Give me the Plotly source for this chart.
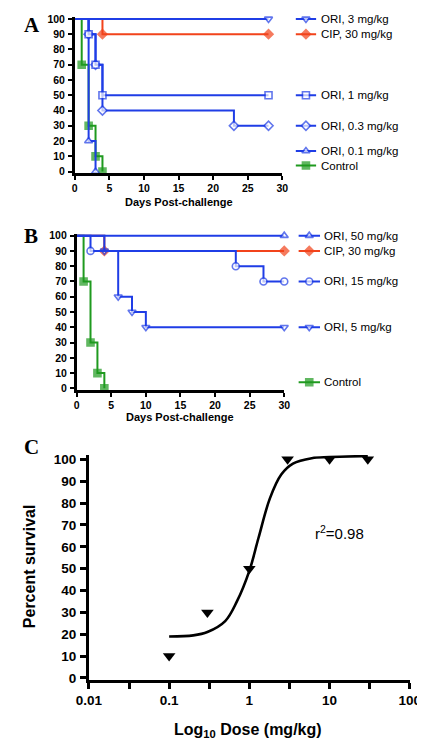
import plotly.graph_objects as go

W, H = 425, 742

# ---------------- data ----------------
# Panel A: Kaplan-Meier steps (day, percent survival)
a_names = ["ORI, 3 mg/kg", "CIP, 30 mg/kg", "ORI, 1 mg/kg", "ORI, 0.3 mg/kg", "ORI, 0.1 mg/kg", "Control"]
a_days = [
    [0, 28],
    [0, 4, 28],
    [0, 2, 3, 4, 28],
    [0, 2, 3, 4, 23, 28],
    [0, 2, 3],
    [0, 1, 2, 3, 4],
]
a_surv = [
    [100, 100],
    [100, 90, 90],
    [100, 90, 70, 50, 50],
    [100, 90, 70, 40, 30, 30],
    [100, 20, 0],
    [100, 70, 30, 10, 0],
]
a_label_y = [100, 90, 50, 30, 13.5, 4]

# Panel B
b_names = ["ORI, 50 mg/kg", "CIP, 30 mg/kg", "ORI, 15 mg/kg", "ORI, 5 mg/kg", "Control"]
b_days = [
    [0, 30],
    [0, 4, 30],
    [0, 2, 23, 27, 30],
    [0, 4, 6, 8, 10, 30],
    [0, 1, 2, 3, 4],
]
b_surv = [
    [100, 100],
    [100, 90, 90],
    [100, 90, 80, 70, 70],
    [100, 90, 60, 50, 40, 40],
    [100, 70, 30, 10, 0],
]
b_label_y = [100, 90, 70, 40, 4]

# Panel C: dose-response
c_dose = [0.1, 0.3, 1, 3, 10, 30]
c_surv = [10, 30, 50, 100, 100, 100]
fit_dose = [0.1, 0.2, 0.3, 0.5, 0.7, 1.0, 1.3, 1.8, 2.5, 3.5, 6, 10, 30]
fit_surv = [19, 19.5, 21, 26, 35, 49, 64, 82, 93, 98, 100.5, 101, 101.5]

ab_yticks = list(range(0, 101, 10))
ab_xticks = [0, 5, 10, 15, 20, 25, 30]
c_xtickvals = [0.01, 0.1, 1, 10, 100]
c_xticktext = ["0.01", "0.1", "1", "10", "100"]
c_xminor = [0.0316, 0.316, 3.16, 31.6]

# ---------------- styles ----------------
BLUE = "#1f3de6"
RED = "#f2431b"
GREEN = "#1f9a1f"

a_styles = [
    (BLUE, "triangle-down", "white"),
    (RED, "diamond", RED),
    (BLUE, "square", "white"),
    (BLUE, "diamond", "white"),
    (BLUE, "triangle-up", "white"),
    (GREEN, "square", GREEN),
]
b_styles = [
    (BLUE, "triangle-up", "white"),
    (RED, "diamond", RED),
    (BLUE, "circle", "white"),
    (BLUE, "triangle-down", "white"),
    (GREEN, "square", GREEN),
]
draw_order_a = [5, 1, 4, 3, 2, 0]
draw_order_b = [4, 1, 3, 2, 0]


def xdom(p0, p1, v0, v1, r0, r1):
    s = (p1 - p0) / (v1 - v0)
    return [(p0 - (v0 - r0) * s) / W, (p1 + (r1 - v1) * s) / W]


def ydom(p_hi, v_hi, p_lo, v_lo, r0, r1):
    s = (p_lo - p_hi) / (v_hi - v_lo)
    top = p_hi - (r1 - v_hi) * s
    bot = p_lo + (v_lo - r0) * s
    return [1 - bot / H, 1 - top / H]


AB_YR = [-1, 101]
C_YR = [-1, 102]

fig = go.Figure()


def km(days, surv, style, xa, ya):
    col, sym, fill = style
    sizes = [0] + [7] * (len(days) - 1)
    fig.add_trace(go.Scatter(
        x=days, y=surv, mode="lines+markers", xaxis=xa, yaxis=ya,
        line=dict(color=col, width=2, shape="hv"),
        marker=dict(symbol=sym, size=sizes, color=fill, line=dict(color=col, width=1.6)),
        cliponaxis=False, showlegend=False, hoverinfo="skip"))


def legsample(yv, style, xa, ya):
    col, sym, fill = style
    fig.add_trace(go.Scatter(
        x=[0, 0.5, 1], y=[yv, yv, yv], mode="lines+markers", xaxis=xa, yaxis=ya,
        line=dict(color=col, width=2),
        marker=dict(symbol=sym, size=[0, 7, 0], color=fill, line=dict(color=col, width=1.6)),
        cliponaxis=False, showlegend=False, hoverinfo="skip"))


for i in draw_order_a:
    km(a_days[i], a_surv[i], a_styles[i], "x", "y")
for i in draw_order_b:
    km(b_days[i], b_surv[i], b_styles[i], "x2", "y2")
for i in range(len(a_names)):
    legsample(a_label_y[i], a_styles[i], "x4", "y")
for i in range(len(b_names)):
    legsample(b_label_y[i], b_styles[i], "x5", "y2")

fig.add_trace(go.Scatter(
    x=fit_dose, y=fit_surv, mode="lines", xaxis="x3", yaxis="y3",
    line=dict(color="black", width=2.6, shape="spline", smoothing=1.0),
    showlegend=False, hoverinfo="skip"))
fig.add_trace(go.Scatter(
    x=c_dose, y=c_surv, mode="markers", xaxis="x3", yaxis="y3",
    marker=dict(symbol="triangle-down", size=11, color="black"),
    cliponaxis=False, showlegend=False, hoverinfo="skip"))

tickfont_ab = dict(family="Liberation Sans, Arial", size=10.5, color="black", weight="bold")
tickfont_c = dict(family="Liberation Sans, Arial", size=13.5, color="black", weight="bold")

axis_common = dict(showline=True, linecolor="black", showgrid=False, zeroline=False,
                   ticks="outside", tickcolor="black", fixedrange=True)

fig.update_layout(
    width=W, height=H, margin=dict(l=0, r=0, t=0, b=0),
    paper_bgcolor="white", plot_bgcolor="rgba(0,0,0,0)",
    xaxis=dict(**axis_common, domain=xdom(57, 277, 0, 30, 0, 30), range=[0, 30], anchor="y",
               tickvals=ab_xticks, ticklen=4, tickwidth=2, linewidth=2.5, tickfont=tickfont_ab),
    yaxis=dict(**axis_common, domain=ydom(6, 100, 161, 0, *AB_YR), range=AB_YR, anchor="x",
               tickvals=ab_yticks, ticklen=4, tickwidth=2, linewidth=2.5, tickfont=tickfont_ab,
               ticklabelstandoff=1),
    xaxis2=dict(**axis_common, domain=xdom(59, 279, 0, 30, 0, 30), range=[0, 30], anchor="y2",
                tickvals=ab_xticks, ticklen=4, tickwidth=2, linewidth=2.5, tickfont=tickfont_ab),
    yaxis2=dict(**axis_common, domain=ydom(226, 100, 381, 0, *AB_YR), range=AB_YR, anchor="x2",
                tickvals=ab_yticks, ticklen=4, tickwidth=2, linewidth=2.5, tickfont=tickfont_ab,
                ticklabelstandoff=1),
    xaxis3=dict(**axis_common, type="log", domain=[72 / W, 412 / W], range=[-2, 2], anchor="y3",
                tickvals=c_xtickvals, ticktext=c_xticktext, ticklen=6, tickwidth=3, linewidth=3,
                tickfont=tickfont_c,
                minor=dict(tickvals=c_xminor, ticks="outside", ticklen=6, tickwidth=3,
                           tickcolor="black", showgrid=False)),
    yaxis3=dict(**axis_common, domain=ydom(453, 100, 675, 0, *C_YR), range=C_YR, anchor="x3",
                tickvals=ab_yticks, ticklen=6, tickwidth=3, linewidth=3, tickfont=tickfont_c,
                ticklabelstandoff=1),
    xaxis4=dict(domain=[291 / W, 313 / W], range=[0, 1], visible=False, anchor="y", fixedrange=True),
    xaxis5=dict(domain=[294 / W, 317 / W], range=[0, 1], visible=False, anchor="y2", fixedrange=True),
)

ann = []
legfont = dict(family="Liberation Sans, Arial", size=11.5, color="black")
for i, n in enumerate(a_names):
    ann.append(dict(text=n, xref="paper", yref="y", x=316 / W, y=a_label_y[i],
                    xanchor="left", yanchor="middle", showarrow=False, font=legfont))
for i, n in enumerate(b_names):
    ann.append(dict(text=n, xref="paper", yref="y2", x=319 / W, y=b_label_y[i],
                    xanchor="left", yanchor="middle", showarrow=False, font=legfont))

letterfont = dict(family="Liberation Serif, Times New Roman", size=21, color="black", weight="bold")
for t, yp in [("A", 12), ("B", 226), ("C", 441)]:
    ann.append(dict(text=t, xref="paper", yref="paper", x=1 / W, y=1 - yp / H,
                    xanchor="left", yanchor="middle", showarrow=False, font=letterfont))

titlefont = dict(family="Liberation Sans, Arial", size=11, color="black", weight="bold")
ann.append(dict(text="Days Post-challenge", xref="paper", yref="paper", x=167 / W, y=1 - 192 / H,
                xanchor="center", yanchor="middle", showarrow=False, font=titlefont))
ann.append(dict(text="Days Post-challenge", xref="paper", yref="paper", x=169 / W, y=1 - 410 / H,
                xanchor="center", yanchor="middle", showarrow=False, font=titlefont))

ann.append(dict(text="Percent survival", xref="paper", yref="paper", x=9 / W, y=1 - 561 / H,
                xanchor="center", yanchor="middle", textangle=-90, showarrow=False,
                font=dict(family="Liberation Sans, Arial", size=16, color="black", weight="bold")))
ann.append(dict(text="Log<sub>10</sub> Dose (mg/kg)", xref="paper", yref="paper", x=241 / W, y=1 - 728 / H,
                xanchor="center", yanchor="middle", showarrow=False,
                font=dict(family="Liberation Sans, Arial", size=16, color="black", weight="bold")))
ann.append(dict(text="r<sup>2</sup>=0.98", xref="paper", yref="paper", x=338 / W, y=1 - 527 / H,
                xanchor="center", yanchor="middle", showarrow=False,
                font=dict(family="Liberation Sans, Arial", size=15, color="black")))

fig.update_layout(annotations=ann)
fig.write_html("out.html")
